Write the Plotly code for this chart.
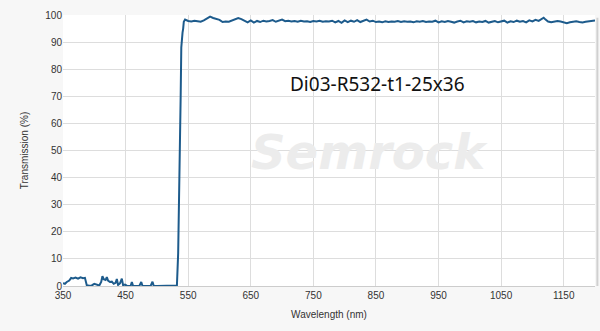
import plotly.graph_objects as go

# Blocking band (nm, %T)
block_wl = [350, 353, 356, 360, 363, 366, 370, 374, 378, 382, 385, 388, 392, 396, 400, 404, 408,
            411, 413, 415, 418, 420, 422, 425, 428, 431, 434, 436, 438, 441, 444, 446, 449, 452,
            458, 460, 462, 472, 475, 477, 490, 493, 495, 500, 510, 520, 530, 532]
block_t = [1.0, 0.8, 1.5, 2.0, 3.0, 2.8, 3.1, 2.7, 3.2, 2.9, 3.0, 0.3, 0.1, 0.2, 0.8, 0.4, 0.2,
           1.5, 3.6, 2.5, 2.2, 3.3, 2.0, 1.5, 1.6, 0.8, 1.2, 2.6, 0.4, 1.0, 2.7, 0.3, 0.5, 0.1,
           0.0, 1.5, 0.0, 0.0, 1.5, 0.0, 0.0, 1.6, 0.0, 0.0, 0.0, 0.0, 0.0, 0.2]

# Transition edge
edge_wl = [534, 536, 537, 538, 539, 540, 541, 542, 543, 545, 547]
edge_t = [12, 35, 45, 70, 88, 93, 93.5, 95, 97.5, 98.3, 98.0]

# Passband
pass_wl = [550, 555, 560, 565, 570, 575, 580, 585, 590, 595, 600, 605, 610, 615, 620, 625, 630,
           635, 640, 645, 650, 655, 660, 665, 670, 675, 680, 685, 690, 695, 700, 705, 710, 715,
           720, 725, 730, 735, 740, 745, 750, 755, 760, 765, 770, 775, 780, 785, 790, 795, 800,
           805, 810, 815, 820, 825, 830, 835, 840, 845, 850, 855, 860, 865, 870, 875, 880, 885,
           890, 895, 900, 905, 910, 915, 920, 925, 930, 935, 940, 945, 950, 955, 960, 965, 970,
           975, 980, 985, 990, 995, 1000, 1005, 1010, 1015, 1020, 1025, 1030, 1035, 1040, 1045,
           1050, 1055, 1060, 1065, 1070, 1075, 1080, 1085, 1090, 1095, 1100, 1105, 1110, 1115,
           1118, 1121, 1125, 1130, 1135, 1140, 1145, 1150, 1155, 1160, 1165, 1170, 1175, 1180,
           1185, 1190, 1195, 1200]
pass_t = [97.8, 97.6, 97.9, 97.7, 97.5, 98.0, 98.7, 99.4, 98.9, 98.6, 98.2, 97.4, 97.6, 97.5,
          98.0, 98.3, 98.9, 98.5, 98.0, 97.3, 98.0, 97.2, 97.8, 97.4, 97.9, 97.6, 97.8, 98.1,
          97.5, 97.9, 98.3, 97.7, 97.9, 97.6, 97.8, 97.5, 97.9, 97.6, 97.7, 97.4, 97.8, 97.6,
          97.9, 97.5, 97.7, 97.6, 97.9, 97.3, 97.8, 97.1, 98.0, 97.4, 97.9, 97.5, 98.1, 97.4,
          97.8, 98.3, 97.6, 97.9, 97.4, 97.6, 97.3, 97.7, 97.4, 97.6, 97.5, 97.8, 97.4, 97.7,
          97.5, 97.6, 97.3, 97.7, 97.5, 97.8, 97.4, 97.6, 97.5, 97.9, 97.3, 97.7, 97.4, 97.8,
          97.5, 97.2, 97.6, 97.9, 97.3, 97.7, 97.5, 97.8, 97.3, 97.6, 97.4, 97.8, 97.2, 97.6,
          97.8, 97.3, 97.6, 97.9, 97.2, 97.7, 97.4, 97.9, 97.5, 97.8, 97.3, 98.0, 97.6, 98.2,
          97.8, 98.5, 99.0, 98.3, 97.6, 97.3, 97.5, 97.8, 97.6, 97.2, 97.0, 97.3, 97.6, 97.7,
          97.4, 97.2, 97.5, 97.7, 97.8, 98.0]

wavelength = block_wl + edge_wl + pass_wl
transmission = block_t + edge_t + pass_t

x_ticks = [350, 450, 550, 650, 750, 850, 950, 1050, 1150]
y_ticks = [0, 10, 20, 30, 40, 50, 60, 70, 80, 90, 100]

fig = go.Figure()
fig.add_trace(go.Scatter(x=wavelength, y=transmission, mode="lines",
                         line=dict(color="#1d5b8c", width=2), hoverinfo="skip"))

fig.add_annotation(text="<b><i>Semrock</i></b>", x=0.577, y=0.495, xref="paper", yref="paper",
                   showarrow=False, font=dict(family="DejaVu Sans", size=48, color="#ececec"))
fig.add_annotation(text="Di03-R532-t1-25x36", x=0.592, y=0.80, xref="paper", yref="paper",
                   showarrow=False, font=dict(family="Noto Sans", size=19, color="#111111"))

fig.add_shape(type="line", xref="paper", yref="paper", x0=1.0045, x1=1.0045, y0=0, y1=0.99,
              line=dict(color="#d0d0d0", width=2))

fig.update_layout(
    width=600, height=331,
    margin=dict(l=63, r=5, t=15, b=45),
    paper_bgcolor="#f7f7f7", plot_bgcolor="#ffffff",
    showlegend=False,
    font=dict(family="Liberation Sans", size=10, color="#333333"),
)
fig.update_xaxes(range=[350, 1200], tickvals=x_ticks, showgrid=True, gridcolor="#dddddd",
                 gridwidth=1, zeroline=False, showline=True, linecolor="#cccccc",
                 title=dict(text="Wavelength (nm)", font=dict(size=10, color="#333333"), standoff=10),
                 tickfont=dict(size=10, color="#333333"))
fig.update_yaxes(range=[0, 100], tickvals=y_ticks, showgrid=True, gridcolor="#dddddd",
                 gridwidth=1, zeroline=False,
                 title=dict(text="Transmission (%)", font=dict(size=10, color="#333333"), standoff=14),
                 tickfont=dict(size=10, color="#333333"))

fig.write_html("out.html")
